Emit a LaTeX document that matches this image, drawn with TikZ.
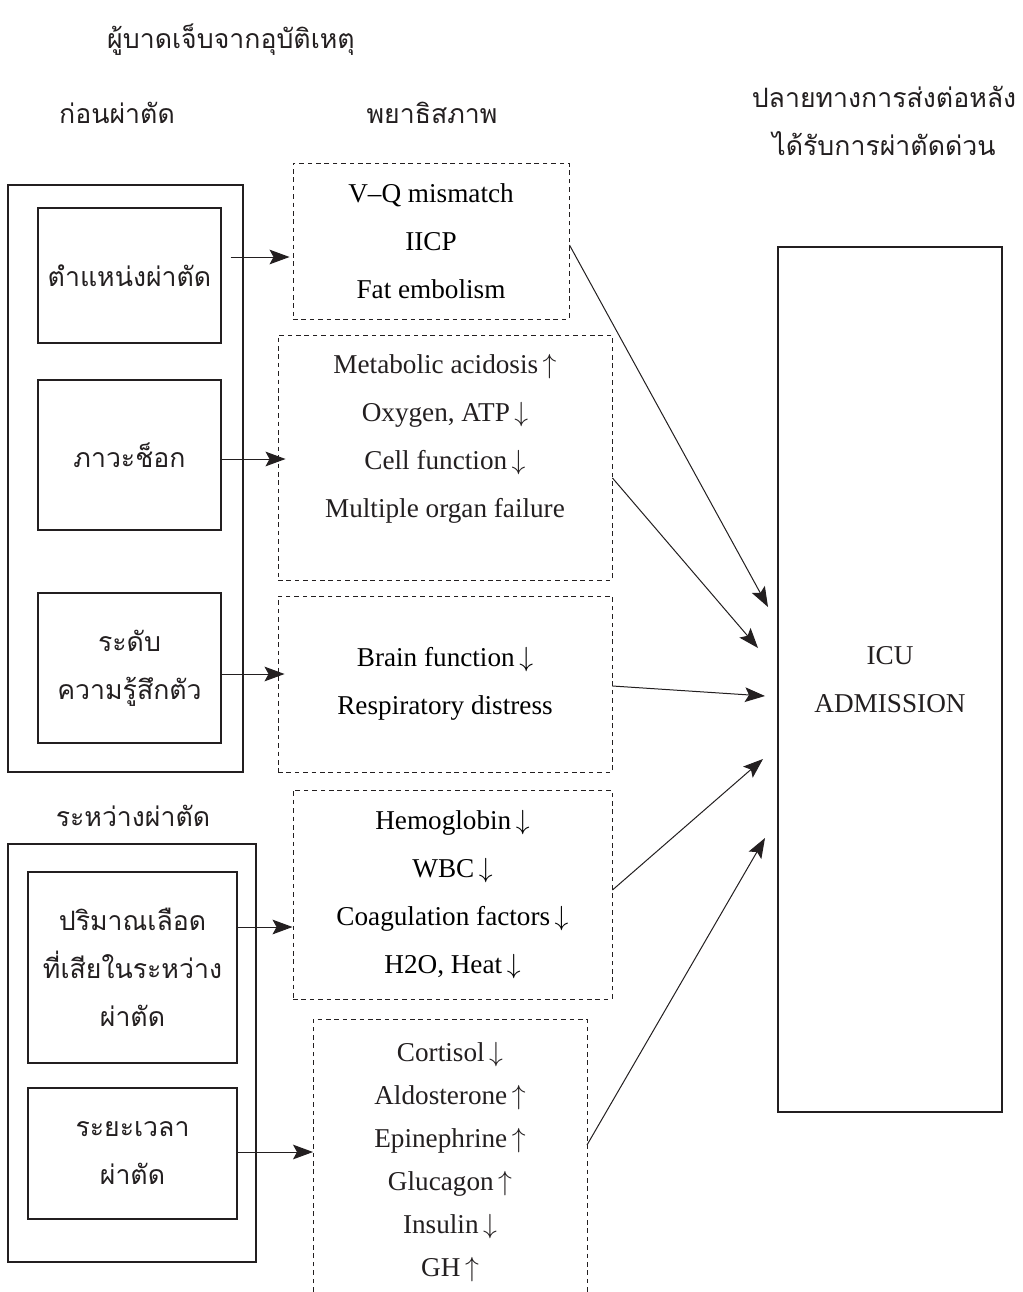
\documentclass[tikz,border=0pt]{standalone}
\usepackage{fontspec}
\setmainfont{Liberation Serif}
\newfontfamily\thaifont[Script=Thai]{Loma}
\usetikzlibrary{arrows.meta,calc}

\definecolor{ink}{RGB}{35,31,32}

\tikzset{
  box/.style={draw=ink, line width=0.8pt, inner sep=0pt},
  dashbox/.style={draw=ink, line width=0.7pt, dash pattern={on 3.5pt off 2.8pt}, inner sep=0pt, align=center, font=\engtext},
  thlbl/.style={text=ink, align=center, inner sep=0pt, font=\thtext},
  englbl/.style={text=ink, align=center, inner sep=0pt, font=\engtext},
  arr/.style={draw=ink, line width=0.75pt, -{Stealth[length=15pt,width=11pt,inset=3pt]}},
}
\newcommand{\thtext}{\thaifont\fontsize{20}{36}\selectfont}
\newcommand{\engtext}{\fontsize{20.4}{36}\selectfont}
\newcommand{\up}{\,$\uparrow$}
\newcommand{\dn}{\,$\downarrow$}

\begin{document}
\begin{tikzpicture}[x=0.75pt,y=0.75pt,yscale=-1,xscale=1]
  \clip (0,0) rectangle (1022,1292);
  \fill[white] (0,0) rectangle (1022,1292);

  % headings
  \node[thlbl] (title) at (231,40) {ผู้บาดเจ็บจากอุบัติเหตุ};
  \node[thlbl] (pre) at (117,113) {ก่อนผ่าตัด};
  \node[thlbl] (patho) at (432,113) {พยาธิสภาพ};
  \node[thlbl] (dest) at (884,121) {ปลายทางการส่งต่อหลัง\\ได้รับการผ่าตัดด่วน};
  \node[thlbl] (intra) at (133,816) {ระหว่างผ่าตัด};

  % outer frames
  \draw[box] (8,185) rectangle (243,772);
  \draw[box] (8,844) rectangle (256,1262);

  % factor boxes
  \node[box, thlbl, minimum width=137.25pt, minimum height=101.25pt] (i1) at (129.5,275.5) {ตำแหน่งผ่าตัด};
  \node[box, thlbl, minimum width=137.25pt, minimum height=112.5pt] (i2) at (129.5,455) {ภาวะช็อก};
  \node[box, thlbl, minimum width=137.25pt, minimum height=112.5pt] (i3) at (129.5,668) {ระดับ\\ความรู้สึกตัว};
  \node[box, thlbl, minimum width=156.75pt, minimum height=143.25pt] (i4) at (132.5,967.5) {ปริมาณเลือด\\ที่เสียในระหว่าง\\ผ่าตัด};
  \node[box, thlbl, minimum width=156.75pt, minimum height=98.25pt] (i5) at (132.5,1153.5) {ระยะเวลา\\ผ่าตัด};

  % pathology boxes
  \node[dashbox, minimum width=207pt, minimum height=117pt] (p1) at (431,241) {V--Q mismatch\\IICP\\Fat embolism};
  \node[dashbox, minimum width=250.5pt, minimum height=183.75pt] (p2) at (445,457.5) {};
  \node[englbl] (p2t) at (445,439) {Metabolic acidosis\up\\Oxygen, ATP\dn\\Cell function\dn\\Multiple organ failure};
  \node[dashbox, minimum width=250.5pt, minimum height=132pt] (p3) at (445,684) {Brain function\dn\\Respiratory distress};
  \node[dashbox, minimum width=239.25pt, minimum height=156.75pt] (p4) at (452.5,894.5) {Hemoglobin\dn\\WBC\dn\\Coagulation factors\dn\\H2O, Heat\dn};
  \draw[dashbox] (313,1300) -- (313,1019) -- (587,1019) -- (587,1300);
  \node[englbl, font=\fontsize{20.4}{32.25}\selectfont] (p5t) at (450,1162.5) {Cortisol\dn\\Aldosterone\up\\Epinephrine\up\\Glucagon\up\\Insulin\dn\\GH\up};
  \coordinate (s5) at (587,1145);

  % destination
  \node[box, englbl, minimum width=168pt, minimum height=648.75pt] (icu) at (890,679.5) {ICU\\ADMISSION};

  % factor -> pathology
  \draw[arr] ($(i1.east)+(9,-18.5)$) coordinate (a1) -- ($(a1 -| p1.west)+(-3,0)$);
  \draw[arr] ($(i2.east)+(0,4)$) coordinate (a2) -- ($(a2 -| p2.west)+(8,0)$);
  \draw[arr] ($(i3.east)+(0,6)$) coordinate (a3) -- ($(a3 -| p3.west)+(7,0)$);
  \draw[arr] ($(i4.east)+(0,-40.5)$) coordinate (a4) -- (a4 -| p4.west);
  \draw[arr] ($(i5.east)+(0,-1.5)$) coordinate (a5) -- (a5 -| 313,0);

  % pathology -> ICU
  \coordinate (t1) at (768,607);
  \coordinate (t2) at (758,648);
  \coordinate (t3) at (765,696);
  \coordinate (t4) at (763,759);
  \coordinate (t5) at (765,838);
  \draw[arr] ($(p1.east)+(0,4)$) -- (t1);
  \draw[arr] ($(p2.east)+(0,20.5)$) -- (t2);
  \draw[arr] ($(p3.east)+(0,2)$) -- (t3);
  \draw[arr] ($(p4.east)+(0,-4.5)$) -- (t4);
  \draw[arr] (s5) -- (t5);
\end{tikzpicture}
\end{document}
